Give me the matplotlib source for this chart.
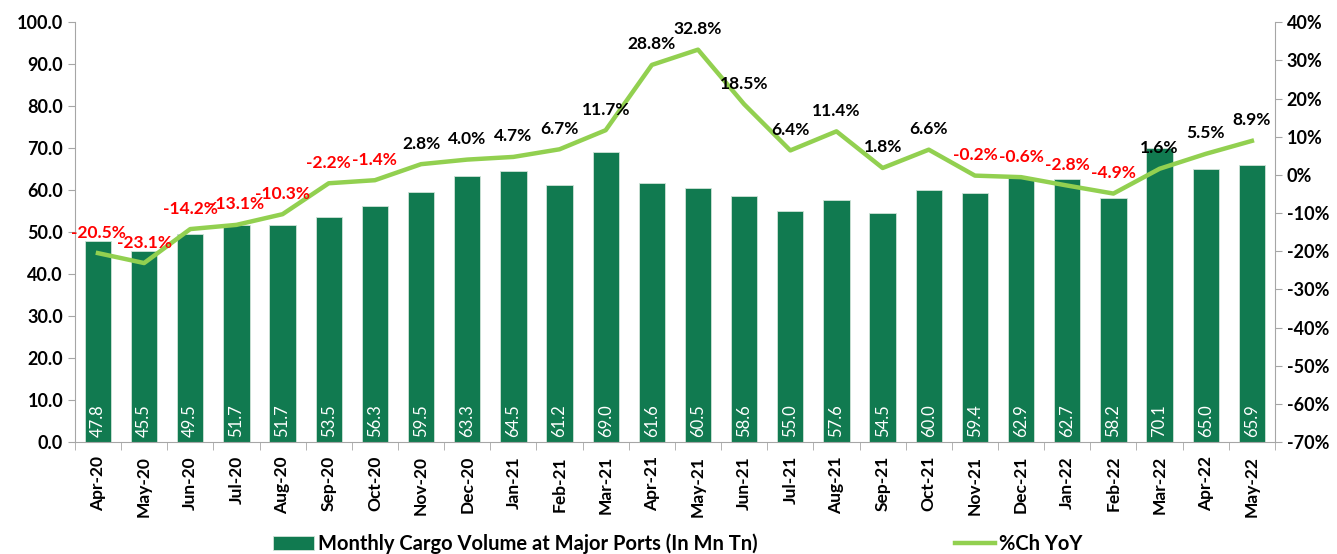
import matplotlib.pyplot as plt
from matplotlib.ticker import FuncFormatter, MultipleLocator
import numpy as np

plt.rcParams['font.family'] = ['Lato', 'DejaVu Sans']

meses = ['Apr-20', 'May-20', 'Jun-20', 'Jul-20', 'Aug-20', 'Sep-20', 'Oct-20', 'Nov-20',
         'Dec-20', 'Jan-21', 'Feb-21', 'Mar-21', 'Apr-21', 'May-21', 'Jun-21', 'Jul-21',
         'Aug-21', 'Sep-21', 'Oct-21', 'Nov-21', 'Dec-21', 'Jan-22', 'Feb-22', 'Mar-22',
         'Apr-22', 'May-22']
volume = [47.8, 45.5, 49.5, 51.7, 51.7, 53.5, 56.3, 59.5, 63.3, 64.5, 61.2, 69.0, 61.6,
          60.5, 58.6, 55.0, 57.6, 54.5, 60.0, 59.4, 62.9, 62.7, 58.2, 70.1, 65.0, 65.9]
variacao = [-20.5, -23.1, -14.2, -13.1, -10.3, -2.2, -1.4, 2.8, 4.0, 4.7, 6.7, 11.7, 28.8,
            32.8, 18.5, 6.4, 11.4, 1.8, 6.6, -0.2, -0.6, -2.8, -4.9, 1.6, 5.5, 8.9]

verde_barra = '#117a50'
verde_linha = '#92d050'
cinza = '#a6a6a6'

fig = plt.figure(figsize=(13.37, 5.54), dpi=100)
ax = fig.add_axes([0.056, 0.202, 0.8976, 0.758])
ax2 = ax.twinx()

x = np.arange(len(meses))
barras = ax.bar(x, volume, width=0.57, color=verde_barra, edgecolor='#cfe3d8',
                linewidth=0.6, label='Monthly Cargo Volume at Major Ports (In Mn Tn)', zorder=2)
for xi, v in zip(x, volume):
    ax.text(xi, 1.2, f'{v:.1f}', rotation=90, ha='center', va='bottom',
            color='white', fontsize=12, zorder=3)

linha, = ax2.plot(x, variacao, color=verde_linha, linewidth=3.2, label='%Ch YoY', zorder=4)
for xi, v in zip(x, variacao):
    ax2.annotate(f'{v:.1f}%', (xi, v), xytext=(0, 9), textcoords='offset points',
                 ha='center', va='bottom', fontsize=12.5, fontweight='bold',
                 color='#ff0000' if v < 0 else 'black', zorder=5)

ax.set_ylim(0, 100)
ax.yaxis.set_major_locator(MultipleLocator(10))
ax.yaxis.set_major_formatter(FuncFormatter(lambda v, p: f'{v:.1f}'))
ax2.set_ylim(-70, 40)
ax2.yaxis.set_major_locator(MultipleLocator(10))
ax2.yaxis.set_major_formatter(FuncFormatter(lambda v, p: f'{v:.0f}%'))

ax.set_xlim(-0.5, len(meses) - 0.5)
ax.set_xticks(x)
ax.set_xticklabels(meses, rotation=90, fontsize=12.5, fontweight='bold')
ax.set_xticks(np.arange(-0.5, len(meses), 1), minor=True)
ax.tick_params(axis='x', which='major', length=0, pad=10)
ax.tick_params(axis='x', which='minor', length=6, color=cinza)
ax.tick_params(axis='y', length=5, color=cinza, labelsize=13)
ax2.tick_params(axis='y', length=5, color=cinza, labelsize=13)
for lab in ax.get_yticklabels() + ax2.get_yticklabels():
    lab.set_fontweight('bold')

for a in (ax, ax2):
    a.spines['top'].set_visible(False)
    for s in ('left', 'right', 'bottom'):
        a.spines[s].set_color(cinza)
ax.spines['right'].set_visible(False)
ax2.spines['left'].set_visible(False)
ax2.spines['bottom'].set_visible(False)

leg = fig.legend([barras, linha], [barras.get_label(), linha.get_label()],
                 loc='center', bbox_to_anchor=(0.507, 0.018), ncol=2, frameon=False,
                 prop={'weight': 'bold', 'size': 14.5}, columnspacing=9.8,
                 handlelength=2.0, handletextpad=0.2)

fig.savefig('out.png', dpi=100)
